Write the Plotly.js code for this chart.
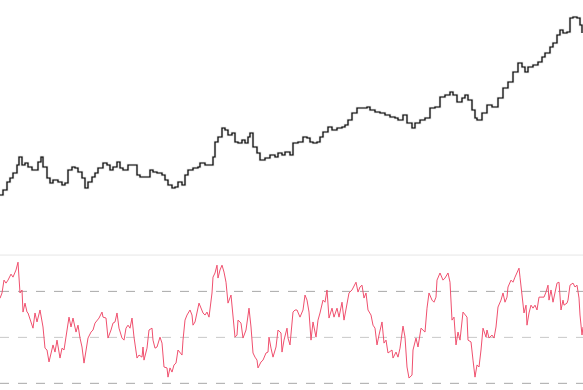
<!DOCTYPE html>
<html>
<head>
<meta charset="utf-8">
<script src="https://cdn.plot.ly/plotly-3.0.1.min.js"></script>
<style>html,body{margin:0;padding:0;background:#fff;}#chart{width:583px;height:390px;}</style>
</head>
<body>
<div id="chart"></div>
<script>
// Price (bar index, close)
var priceBars = [0,3,7,10,13,17,19,22,25,28,32,35,38,41,43,47,50,53,58,62,65,68,72,75,78,82,85,88,92,95,98,103,107,110,113,117,120,123,128,133,137,140,145,150,153,157,162,165,168,172,175,178,182,185,188,193,198,200,205,210,213,215,218,222,225,228,232,235,238,242,245,248,250,253,257,260,265,270,275,278,282,285,290,293,298,303,307,310,313,317,320,323,328,332,337,342,345,348,352,357,362,367,370,375,380,385,390,395,398,403,407,412,415,420,425,430,435,440,445,450,453,457,462,465,468,472,475,477,482,487,492,495,498,503,508,513,518,522,525,528,533,538,542,545,550,553,557,560,563,567,570,573,577,580,582];
var priceClose = [105,110,118,122,127,135,143,135,137,133,130,130,138,143,133,122,117,120,118,115,117,130,133,132,128,122,112,118,123,127,132,137,135,130,133,138,132,130,135,135,125,123,123,130,128,127,125,120,115,112,113,118,115,125,130,132,133,137,135,135,143,158,163,172,170,165,167,158,157,160,157,163,167,153,147,140,142,145,143,147,145,148,145,157,158,163,162,158,157,158,163,168,173,170,172,173,175,180,187,192,192,193,190,188,187,185,183,182,180,185,177,172,177,180,182,192,193,203,205,208,205,198,202,205,200,190,182,180,187,195,193,193,202,212,218,228,237,233,228,233,235,238,243,247,253,257,265,270,267,268,282,283,282,275,267];

// Oscillator (bar index, value)
var oscBars = [0,2,4,6,8,11,13,16,18,20,22,23,25,27,28,31,33,35,37,40,43,45,47,49,52,53,55,57,60,62,64,67,69,71,73,76,78,80,82,84,86,88,91,93,95,97,99,102,103,106,108,111,113,115,117,119,122,124,126,128,130,132,134,137,139,142,143,144,147,149,152,153,155,157,160,162,164,167,168,170,172,174,176,178,180,182,183,185,187,190,192,193,195,197,199,203,205,207,209,212,213,215,217,218,220,222,224,226,228,231,233,235,237,238,241,243,246,249,251,253,255,257,258,261,263,266,268,269,271,273,276,278,281,282,284,287,288,290,293,295,297,300,303,305,307,309,311,313,316,318,320,323,325,327,329,332,334,337,339,342,344,347,349,352,354,356,358,360,362,364,366,368,371,373,375,377,379,382,384,386,388,392,393,396,398,400,403,405,407,409,412,413,416,418,421,423,425,427,429,432,434,436,437,440,443,445,448,450,452,454,456,458,460,463,465,467,468,471,473,475,477,479,481,483,486,487,489,492,494,496,498,501,503,505,507,508,511,513,515,517,519,520,523,524,526,527,529,531,533,535,537,539,542,544,546,548,549,551,553,555,557,559,561,563,564,567,568,570,573,575,577,579,580,582,583];
var oscValues = [67.0,69.3,74.9,73.6,74.9,77.5,76.2,79.3,82.7,69.3,70.6,61.0,64.9,61.0,60.6,56.7,54.0,60.6,56.7,61.9,54.5,45.3,44.5,39.3,45.8,46.7,43.6,48.8,41.0,45.3,44.5,54.0,58.8,54.5,58.4,52.3,55.3,49.7,45.8,38.8,45.3,49.7,52.3,53.2,56.2,57.5,58.4,61.0,58.8,58.4,49.7,53.2,56.2,56.7,60.6,54.0,49.7,48.8,54.0,55.3,54.0,58.4,50.1,41.0,42.3,41.4,45.8,40.1,45.3,53.2,54.0,48.8,45.3,45.8,50.1,47.5,37.1,36.7,32.7,36.7,34.9,38.0,38.8,44.5,43.2,42.3,48.8,57.5,59.7,61.9,59.7,55.3,56.7,60.6,64.9,60.6,59.7,61.0,58.8,69.3,76.2,78.0,81.4,75.8,79.3,81.4,78.4,74.0,64.9,68.4,60.6,50.1,51.0,57.5,56.2,49.7,53.2,62.7,54.5,43.2,41.4,40.1,36.7,39.3,40.1,43.2,43.6,50.1,45.3,41.4,45.8,53.2,51.9,43.6,48.8,54.0,49.7,46.7,61.0,61.9,61.9,58.8,61.9,68.4,66.2,61.0,48.8,56.7,50.1,57.5,60.6,66.2,65.3,70.6,58.4,62.7,58.8,62.7,58.8,65.3,57.5,64.0,69.3,70.6,72.7,74.0,69.7,71.9,72.7,67.1,69.3,61.9,59.7,55.3,54.0,46.7,51.0,56.7,47.5,48.8,43.2,44.5,41.0,43.6,41.4,45.3,54.9,50.1,37.1,32.3,33.6,44.5,49.7,45.8,54.0,53.2,52.3,62.7,69.3,66.2,65.3,67.5,74.9,78.0,74.9,75.8,78.0,74.0,57.5,58.8,46.7,52.3,48.8,61.0,59.7,58.8,48.8,48.0,40.1,32.7,38.0,37.1,44.5,54.0,50.1,53.2,49.7,51.0,49.7,54.5,63.2,66.2,69.3,65.3,67.5,71.9,74.9,74.0,76.2,78.0,80.1,76.2,64.0,60.6,64.0,55.3,60.6,64.0,62.7,64.0,61.9,67.5,67.5,67.5,69.7,72.7,66.2,70.6,65.3,69.7,73.6,74.0,61.9,66.2,64.0,64.9,66.2,72.7,73.6,71.9,72.7,67.1,59.7,51.0,54.5];

var oscLevels = [70, 50, 30];

var traces = [
  {x: priceBars, y: priceClose, type: 'scatter', mode: 'lines', xaxis: 'x', yaxis: 'y',
   line: {color: 'rgba(160,160,160,0.35)', width: 2.6, shape: 'hv'}, hoverinfo: 'skip'},
  {x: priceBars, y: priceClose, type: 'scatter', mode: 'lines', xaxis: 'x', yaxis: 'y',
   line: {color: '#000000', width: 1.2, shape: 'hv'}},
  {x: oscBars, y: oscValues, type: 'scatter', mode: 'lines', xaxis: 'x', yaxis: 'y2',
   line: {color: '#f0506e', width: 1}}
];

var shapes = [
  {type: 'line', xref: 'paper', yref: 'y2 domain', x0: 0, x1: 1, y0: 1, y1: 1,
   line: {color: '#e6e6e6', width: 1}}
];
oscLevels.forEach(function (lv, i) {
  shapes.push({type: 'line', xref: 'paper', yref: 'y2', x0: 0, x1: 1, y0: lv, y1: lv,
    line: {color: i === 1 ? '#c8c8c8' : '#a8a8a8', width: 1, dash: 'dash'}, layer: 'below'});
});

var layout = {
  width: 583, height: 390,
  margin: {l: 0, r: 0, t: 0, b: 0, pad: 0},
  paper_bgcolor: '#ffffff', plot_bgcolor: '#ffffff',
  showlegend: false,
  xaxis: {range: [0, 583], visible: false, showgrid: false, zeroline: false},
  yaxis: {domain: [0.36, 1], range: [50.4, 300], visible: false, showgrid: false, zeroline: false},
  yaxis2: {domain: [0, 0.346], range: [27.1, 85.8], visible: false, showgrid: false, zeroline: false, anchor: 'x'},
  shapes: shapes
};

Plotly.newPlot('chart', traces, layout, {staticPlot: true, displayModeBar: false});
</script>
</body>
</html>
